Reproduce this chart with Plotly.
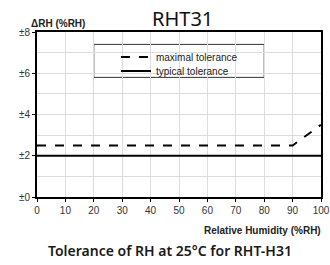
import plotly.graph_objects as go

rh = [0, 10, 20, 30, 40, 50, 60, 70, 80, 90, 100]
maximal = [2.5, 2.5, 2.5, 2.5, 2.5, 2.5, 2.5, 2.5, 2.5, 2.5, 3.5]
typical = [2, 2, 2, 2, 2, 2, 2, 2, 2, 2, 2]
x_ticks = [0, 10, 20, 30, 40, 50, 60, 70, 80, 90, 100]
y_ticks = [0, 2, 4, 6, 8]
y_labels = ["±0", "±2", "±4", "±6", "±8"]

fig = go.Figure()
fig.add_trace(go.Scatter(x=rh, y=maximal, mode="lines", name="maximal tolerance",
                         line=dict(color="black", width=2, dash="dash"), legend="legend"))
fig.add_trace(go.Scatter(x=rh, y=typical, mode="lines", name="typical tolerance",
                         line=dict(color="black", width=2), legend="legend2"))

tick_font = dict(family="Liberation Sans, Arial", size=10, color="#333")
leg_font = dict(family="Liberation Sans, Arial", size=10, color="#222")
fig.update_layout(
    width=330, height=265,
    margin=dict(l=37, r=9, t=32, b=68, autoexpand=False),
    paper_bgcolor="white", plot_bgcolor="white",
    showlegend=True,
    legend=dict(x=0.278, y=0.848, xanchor="left", yanchor="middle",
                bgcolor="rgba(0,0,0,0)", borderwidth=0, font=leg_font),
    legend2=dict(x=0.278, y=0.764, xanchor="left", yanchor="middle",
                 bgcolor="rgba(0,0,0,0)", borderwidth=0, font=leg_font),
    xaxis=dict(range=[0, 100], tickvals=x_ticks, ticktext=[str(v) for v in x_ticks],
               showgrid=True, gridcolor="#dddddd", gridwidth=1,
               showline=True, linecolor="black", linewidth=2, mirror=True,
               ticks="outside", ticklen=3, tickcolor="black", automargin=False,
               tickfont=tick_font, zeroline=False, fixedrange=True),
    yaxis=dict(range=[0, 8], tickvals=y_ticks, ticktext=y_labels,
               showgrid=True, gridcolor="#dddddd", gridwidth=1,
               minor=dict(dtick=1, showgrid=True, gridcolor="#dddddd", gridwidth=1),
               showline=True, linecolor="black", linewidth=2, mirror=True,
               ticks="outside", ticklen=3, tickcolor="black", automargin=False,
               tickfont=tick_font, zeroline=False, fixedrange=True),
)

fig.add_shape(type="rect", xref="x", yref="y", x0=20, x1=80, y0=5.8, y1=7.4,
              line=dict(color="#333", width=1), fillcolor="white", layer="below")

fig.add_annotation(text="RHT31", xref="paper", yref="paper", x=0.514, y=1, yshift=14,
                   showarrow=False, yanchor="middle",
                   font=dict(family="Noto Sans, Open Sans", size=20, color="#111"))
fig.add_annotation(text="<b>ΔRH (%RH)</b>", xref="paper", yref="paper", x=-0.028, y=1,
                   yshift=9, xanchor="left", yanchor="middle", showarrow=False,
                   font=dict(family="Liberation Sans, Arial", size=10, color="#222"))
fig.add_annotation(text="<b>Relative Humidity (%RH)</b>", xref="paper", yref="paper",
                   x=1.007, y=0, yshift=-33, xanchor="right", yanchor="middle", showarrow=False,
                   font=dict(family="Liberation Sans, Arial", size=10, color="#222"))
fig.add_annotation(text="Tolerance of RH at 25°C for RHT-H31", xref="paper", yref="paper",
                   x=0.468, y=0, yshift=-53, xanchor="center", yanchor="middle", showarrow=False,
                   font=dict(family="Noto Sans, Open Sans", size=14, color="#1a1a1a", weight=600))

fig.write_html("out.html", config={"displayModeBar": False},
               post_script="document.body.style.margin='0';")
